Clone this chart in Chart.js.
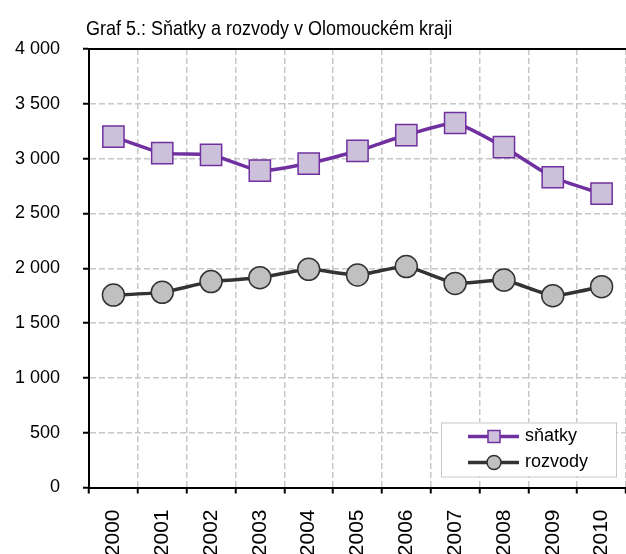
<!DOCTYPE html>
<html>
<head>
<meta charset="utf-8">
<script src="https://cdn.jsdelivr.net/npm/chart.js@4"></script>
<style>
  html, body { margin: 0; padding: 0; background: #fff; overflow: hidden; }
  canvas { display: block; position: absolute; left: 0; top: 0; }
</style>
</head>
<body>
<canvas id="graf" width="626" height="574"></canvas>
<script>
  // Data
  const roky = ['2000', '2001', '2002', '2003', '2004', '2005', '2006', '2007', '2008', '2009', '2010'];
  const snatky = [3200, 3050, 3035, 2890, 2955, 3070, 3215, 3325, 3105, 2830, 2680];
  const rozvody = [1755, 1780, 1878, 1914, 1990, 1938, 2015, 1862, 1892, 1750, 1832];
  const titulek = 'Graf 5.: Sňatky a rozvody v Olomouckém kraji';

  const font = 'Liberation Sans, Arial, sans-serif';

  // Formát čísel s mezerou po tisících
  function cislo(v) {
    return String(v).replace(/\B(?=(\d{3})+(?!\d))/g, ' ');
  }

  // Titulek vlevo nad grafem
  const titulekPlugin = {
    id: 'titulek',
    afterDraw(chart) {
      const ctx = chart.ctx;
      ctx.save();
      ctx.font = '18px ' + font;
      ctx.fillStyle = '#000';
      ctx.textBaseline = 'alphabetic';
      ctx.textAlign = 'left';
      ctx.translate(chart.chartArea.left - 3, 35);
      ctx.scale(1, 1.12);
      ctx.fillText(titulek, 0, 0);
      ctx.restore();
    }
  };

  // Horní okraj grafu plnou čarou
  const okrajPlugin = {
    id: 'okraj',
    afterDatasetsDraw(chart) {
      const a = chart.chartArea;
      const ctx = chart.ctx;
      ctx.save();
      ctx.strokeStyle = '#000';
      ctx.lineWidth = 2;
      ctx.beginPath();
      ctx.moveTo(a.left, a.top);
      ctx.lineTo(a.right, a.top);
      ctx.stroke();
      ctx.restore();
    }
  };

  // Legenda uvnitř grafu vpravo dole
  const legendaPlugin = {
    id: 'legenda',
    afterDraw(chart) {
      const a = chart.chartArea;
      const ctx = chart.ctx;
      const x1 = a.right - 185, x2 = a.right - 10;
      const y1 = a.bottom - 65, y2 = a.bottom - 11;
      ctx.save();
      ctx.fillStyle = '#fff';
      ctx.fillRect(x1, y1, x2 - x1, y2 - y1);
      ctx.strokeStyle = '#c8c8c8';
      ctx.lineWidth = 1;
      ctx.strokeRect(x1 + 0.5, y1 + 0.5, x2 - x1, y2 - y1);
      chart.data.datasets.forEach((ds, i) => {
        const y = y1 + 14 + i * 26;
        ctx.strokeStyle = ds.borderColor;
        ctx.lineWidth = 3.5;
        ctx.beginPath();
        ctx.moveTo(x1 + 27, y);
        ctx.lineTo(x1 + 78, y);
        ctx.stroke();
        ctx.fillStyle = ds.pointBackgroundColor;
        ctx.strokeStyle = ds.pointBorderColor;
        ctx.lineWidth = 1.5;
        ctx.beginPath();
        if (ds.pointStyle === 'rect') {
          ctx.rect(x1 + 53 - 6, y - 6, 12, 12);
        } else {
          ctx.arc(x1 + 53, y, 7, 0, Math.PI * 2);
        }
        ctx.fill();
        ctx.stroke();
        ctx.fillStyle = '#000';
        ctx.font = '18px ' + font;
        ctx.textBaseline = 'middle';
        ctx.fillText(ds.label, x1 + 84, y);
      });
      ctx.restore();
    }
  };

  new Chart(document.getElementById('graf'), {
    type: 'line',
    data: {
      labels: roky,
      datasets: [{
        label: 'sňatky',
        data: snatky,
        borderColor: '#7030a0',
        borderWidth: 3.5,
        pointStyle: 'rect',
        pointRadius: 15,
        pointBackgroundColor: '#ccc0da',
        pointBorderColor: '#7030a0',
        pointBorderWidth: 1.5,
        tension: 0.15
      }, {
        label: 'rozvody',
        data: rozvody,
        borderColor: '#333333',
        borderWidth: 3.5,
        pointStyle: 'circle',
        pointRadius: 11,
        pointBackgroundColor: '#c0c0c0',
        pointBorderColor: '#333333',
        pointBorderWidth: 1.5,
        tension: 0.15
      }]
    },
    options: {
      responsive: false,
      animation: false,
      events: [],
      layout: { autoPadding: false, padding: { top: 49, right: 0, left: 0, bottom: 0 } },
      plugins: {
        legend: { display: false },
        title: { display: false },
        tooltip: { enabled: false }
      },
      scales: {
        x: {
          offset: true,
          grid: {
            offset: true,
            color: '#c8c8c8',
            lineWidth: 1.5,
            tickColor: '#000',
            tickWidth: 2,
            tickLength: 6,
            tickBorderDash: []
          },
          border: { color: '#000', width: 2, dash: [6, 3] },
          ticks: {
            minRotation: 90,
            maxRotation: 90,
            padding: 16,
            color: '#000',
            font: { family: font, size: 21 }
          },
          afterFit(axis) {
            axis.height = 86.5;
            axis.paddingLeft = 0;
            axis.paddingRight = 0;
          }
        },
        y: {
          min: 0,
          max: 4000,
          grid: {
            color: '#c8c8c8',
            lineWidth: 1.5,
            tickColor: '#000',
            tickWidth: 2,
            tickLength: 6,
            tickBorderDash: []
          },
          border: { color: '#000', width: 2, dash: [6, 3] },
          ticks: {
            stepSize: 500,
            padding: 23,
            color: '#000',
            font: { family: font, size: 18 },
            callback: v => cislo(v)
          },
          afterFit(axis) {
            axis.width = 89;
            axis.paddingTop = 0;
            axis.paddingBottom = 0;
          }
        }
      }
    },
    plugins: [titulekPlugin, okrajPlugin, legendaPlugin]
  });
</script>
</body>
</html>
